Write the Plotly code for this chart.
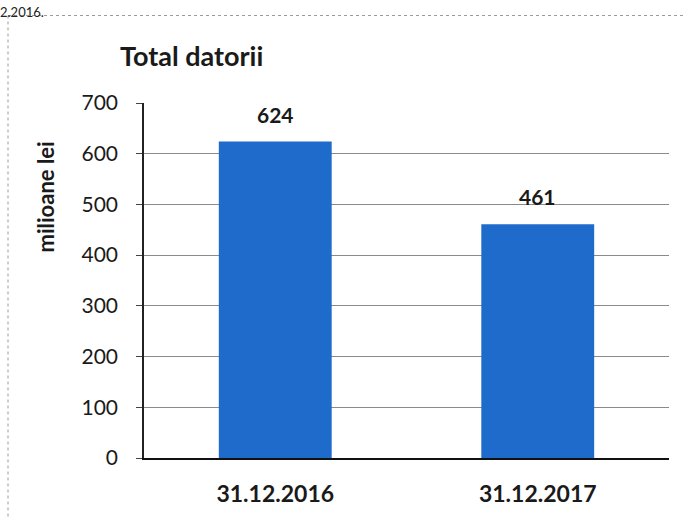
import plotly.graph_objects as go

categories = ["31.12.2016", "31.12.2017"]
values = [624, 461]
y_ticks = [0, 100, 200, 300, 400, 500, 600, 700]
title_text = "Total datorii"
y_title = "milioane lei"

W, H = 686, 519
L, R, T, B = 144, 17, 103, 59
pw, ph = W - L - R, H - T - B

def px_x(x):
    return (x - L) / pw

def px_y(y):
    return (H - B - y) / ph

font_family = "Lato, 'Open Sans', sans-serif"
bar_color = "#1F6BCB"
text_color = "#1a1a1a"

fig = go.Figure()
fig.add_trace(go.Bar(
    x=categories, y=values,
    marker=dict(color=bar_color, line=dict(width=0)),
    hoverinfo="skip",
))

for c, v in zip(categories, values):
    fig.add_annotation(
        x=c, y=v, xref="x", yref="y", text=f"<b>{v}</b>",
        showarrow=False, yanchor="bottom", yshift=13,
        font=dict(family=font_family, size=21, color=text_color),
    )

fig.add_annotation(
    x=px_x(45), y=px_y(198), xref="paper", yref="paper",
    text=f"<b>{y_title}</b>", textangle=-90, showarrow=False,
    xanchor="center", yanchor="middle",
    font=dict(family=font_family, size=22, color=text_color),
)

# partial text from scanned page above the chart
fig.add_annotation(
    x=px_x(-2), y=px_y(1), xref="paper", yref="paper",
    text="2.2016.", showarrow=False, xanchor="left", yanchor="top",
    font=dict(family=font_family, size=13, color="#222"),
)

# chart border (scanned frame)
fig.add_shape(type="line", xref="paper", yref="paper",
              x0=px_x(8), y0=px_y(15), x1=px_x(690), y1=px_y(15),
              line=dict(color="#9a9a9a", width=1, dash="dot"))
fig.add_shape(type="line", xref="paper", yref="paper",
              x0=px_x(8), y0=px_y(15), x1=px_x(8), y1=px_y(525),
              line=dict(color="#9a9a9a", width=1, dash="dot"))

fig.update_layout(
    width=W, height=H,
    margin=dict(l=L, r=R, t=T, b=B, pad=0),
    paper_bgcolor="white", plot_bgcolor="white",
    bargap=0.57,
    showlegend=False,
    title=dict(
        text=f"<b>{title_text}</b>", x=120 / W, xanchor="left",
        y=1 - 57 / H, yanchor="middle", xref="container",
        font=dict(family=font_family, size=27, color=text_color),
    ),
)

fig.update_xaxes(
    type="category", range=[-0.5, 1.5],
    showline=True, linecolor="#111", linewidth=2,
    showgrid=False, ticks="",
    tickfont=dict(family=font_family, size=23, color=text_color, weight="bold"),
    ticklabelstandoff=14,
)

fig.update_yaxes(
    range=[0, 700], tickvals=y_ticks, ticktext=[str(t) for t in y_ticks],
    showline=True, linecolor="#222", linewidth=1.5,
    showgrid=True, gridcolor="#8a8a8a", gridwidth=1,
    ticks="outside", ticklen=6, tickcolor="#444",
    tickfont=dict(family=font_family, size=21, color=text_color),
    ticklabelstandoff=14,
    zeroline=False,
)

fig.write_html("out.html", config={"displayModeBar": False},
               post_script="document.body.style.margin='0';")
